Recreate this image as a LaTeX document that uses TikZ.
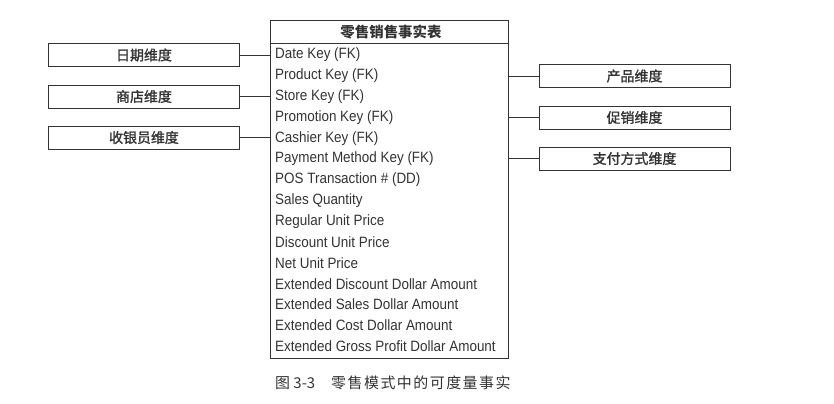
\documentclass[tikz,border=0pt]{standalone}
\usepackage{fontspec}
\setmainfont{Liberation Sans}
\newfontfamily\rowfont[FakeStretch=0.9]{Liberation Sans}
\newfontfamily\cjk{Noto Sans CJK SC}
\newfontfamily\cjkmed[FakeBold=1.5]{Noto Sans CJK SC}
\newfontfamily\cjkcap[LetterSpace=10]{Noto Sans CJK SC}
\definecolor{ink}{HTML}{333333}
\begin{document}
\begin{tikzpicture}[x=1bp,y=-1bp,
  line/.style={draw=ink,line width=0.9bp},
  dimbox/.style={line,minimum width=191bp,minimum height=23bp,inner sep=0pt,font=\cjkmed\fontsize{14}{15}\selectfont,text=ink},
  rowtext/.style={anchor=west,inner sep=0pt,font=\rowfont\fontsize{15}{17}\selectfont,text=ink}]
\useasboundingbox (0,0) rectangle (834,403);
\node[line,anchor=north west,minimum width=238bp,minimum height=338bp,inner sep=0pt] (fact) at (270,20) {};
\draw[line] (270,43) -- (508,43);
\node[font=\cjk\bfseries\fontsize{14.5}{15}\selectfont,text=ink] (title) at (391,32) {零售销售事实表};
\foreach \t [count=\i from 0] in {Date Key (FK),Product Key (FK),Store Key (FK),Promotion Key (FK),Cashier Key (FK),Payment Method Key (FK),POS Transaction \# (DD),Sales Quantity,Regular Unit Price,Discount Unit Price,Net Unit Price,Extended Discount Dollar Amount,Extended Sales Dollar Amount,Extended Cost Dollar Amount,Extended Gross Profit Dollar Amount}
  \node[rowtext] (r\i) at (275,{55+\i*20.8}) {\t};
\node[dimbox] (dd) at (144,55) {日期维度};
\node[dimbox] (ds) at (144,96.5) {商店维度};
\node[dimbox] (dc) at (144,137.5) {收银员维度};
\node[dimbox] (dp) at (634.5,76) {产品维度};
\node[dimbox] (dm) at (634.5,117.5) {促销维度};
\node[dimbox] (dy) at (634.5,158.5) {支付方式维度};
\draw[line] (dd.east) -- (dd.east -| fact.west);
\draw[line] (ds.east) -- (ds.east -| fact.west);
\draw[line] (dc.east) -- (dc.east -| fact.west);
\draw[line] (dp.west) -- (dp.west -| fact.east);
\draw[line] (dm.west) -- (dm.west -| fact.east);
\draw[line] (dy.west) -- (dy.west -| fact.east);
\node[anchor=west,inner sep=0pt,font=\fontsize{15}{16}\selectfont,text=ink] (cap) at (275,383) {\makebox[56bp][l]{\cjk 图 3-3}{\cjkcap 零售模式中的可度量事实}};
\end{tikzpicture}
\end{document}
